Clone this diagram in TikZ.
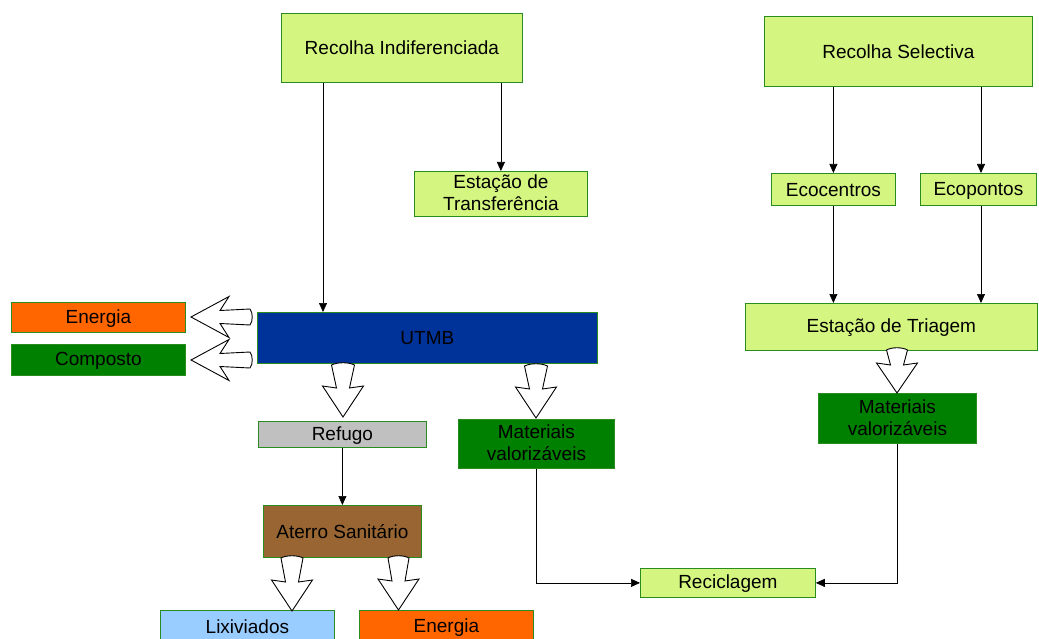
\documentclass[tikz,border=0pt]{standalone}
\usepackage{fontspec}
\setmainfont{Liberation Sans}
\usetikzlibrary{arrows.meta}
\definecolor{lgreen}{RGB}{212,245,128}
\definecolor{bgreen}{RGB}{40,140,30}
\definecolor{dgreen}{RGB}{0,128,0}
\definecolor{dblue}{RGB}{0,51,153}
\definecolor{orng}{RGB}{255,102,0}
\definecolor{brwn}{RGB}{153,102,51}
\definecolor{lblue}{RGB}{153,204,255}
\definecolor{gry}{RGB}{192,192,192}
\newcommand\bxtop{\rule{0pt}{16pt}}
\newcommand\bxbot{\rule[-2.4pt]{0pt}{2.4pt}}
\tikzset{
  box/.style={draw=bgreen, line width=0.8pt, inner sep=0pt, align=center, anchor=north west,
    font=\fontsize{19}{22}\selectfont, text=black,
    execute at begin node=\bxtop, execute at end node=\bxbot},
  lbox/.style={box, fill=lgreen},
  conn/.style={line width=0.7pt, -{Triangle[length=9pt,width=8pt]}},
  pics/barrow/.style n args={4}{code={
    \draw[line width=0.9pt, fill=white, line join=miter]
      (0,-#4) -- ({#1-#2+#3},-6.5) -- ({#1-#2},-20.5) -- (#1,0) -- ({#1-#2},20.5)
      -- ({#1-#2+#3},6.5) -- (0,#4) .. controls (-3,{#4/2}) and (-3,{-#4/2}) .. cycle;
  }}
}
\begin{document}
\begin{tikzpicture}[x=1pt,y=-1pt]
\useasboundingbox (0,0) rectangle (1039,639);
\clip (0,0) rectangle (1039,639);
\fill[white] (0,0) rectangle (1039,639);
% nodes
\node[lbox, minimum width=241pt, minimum height=69pt] (ri) at (281,13) {Recolha Indiferenciada};
\node[lbox, minimum width=268pt, minimum height=70pt] (rs) at (764,16) {Recolha Selectiva};
\node[lbox, minimum width=173pt, minimum height=45pt] (et) at (414,171) {Estação de\\Transferência};
\node[lbox, minimum width=124pt, minimum height=32pt] (eco) at (771,173) {Ecocentros};
\node[lbox, minimum width=116pt, minimum height=32pt] (ecp) at (920,173) {Ecopontos};
\node[lbox, minimum width=292pt, minimum height=47pt] (tri) at (745,303) {Estação de Triagem};
\node[box, fill=dblue, minimum width=340pt, minimum height=51pt] (utmb) at (257,312) {UTMB};
\node[box, fill=orng, minimum width=174pt, minimum height=30pt] (en1) at (11,302) {Energia};
\node[box, fill=dgreen, minimum width=174pt, minimum height=31pt] (comp) at (11,344) {Composto};
\node[box, fill=gry, minimum width=168pt, minimum height=26pt] (ref) at (258,421) {Refugo};
\node[box, fill=dgreen, minimum width=156pt, minimum height=49pt] (mv1) at (458,419) {Materiais\\valorizáveis};
\node[box, fill=dgreen, minimum width=158pt, minimum height=50pt] (mv2) at (818,393) {Materiais\\valorizáveis};
\node[box, fill=brwn, minimum width=158pt, minimum height=52pt] (ater) at (263,505) {Aterro Sanitário};
\node[box, fill=lblue, minimum width=174pt, minimum height=32pt] (lix) at (160,610) {Lixiviados};
\node[box, fill=orng, minimum width=174pt, minimum height=32pt] (en2) at (359,610) {Energia};
\node[lbox, minimum width=175pt, minimum height=29pt] (rec) at (640,568) {Reciclagem};
% helper coordinates
\coordinate (xa) at (323,0);
\coordinate (xb) at (981,0);
% connectors
\draw[conn] (ri.south -| xa) -- (utmb.north -| xa);
\draw[conn] (ri.south -| et.north) -- (et.north);
\draw[conn] (rs.south -| eco.north) -- (eco.north);
\draw[conn] (rs.south -| xb) -- (ecp.north -| xb);
\draw[conn] (eco.south) -- (eco.south |- tri.north);
\draw[conn] (ecp.south -| xb) -- (tri.north -| xb);
\draw[conn] (ref.south) -- (ater.north);
\draw[conn] (mv1.south) |- (rec.west);
\draw[conn] (mv2.south) |- (rec.east);
% block arrows
\pic[rotate=180] at (250,317) {barrow={59}{38}{9}{8}};
\pic[rotate=180] at (250,360) {barrow={59}{38}{9}{8}};
\pic[rotate=-90] at (343,365) {barrow={52}{31}{2}{11.5}};
\pic[rotate=-90] at (536,366) {barrow={52}{31}{2}{11.5}};
\pic[rotate=-90] at (897,350) {barrow={43}{30}{2}{10.5}};
\pic[rotate=-90] at (292,558) {barrow={53}{31}{2}{11}};
\pic[rotate=-90] at (398.5,558) {barrow={52}{31}{2}{10.5}};
\end{tikzpicture}
\end{document}
